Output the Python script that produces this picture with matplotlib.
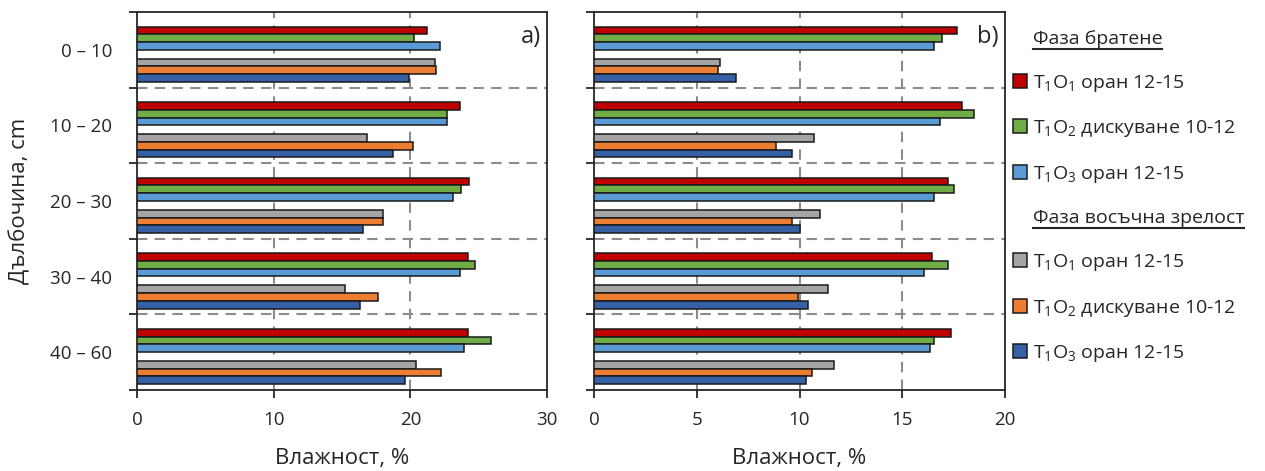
import matplotlib
matplotlib.use("Agg")
import matplotlib.pyplot as plt
import numpy as np
from matplotlib.patches import Patch
from matplotlib.lines import Line2D

plt.rcParams['font.family'] = ['Open Sans', 'DejaVu Sans']
plt.rcParams['mathtext.fontset'] = 'custom'
plt.rcParams['mathtext.rm'] = 'Open Sans'
plt.rcParams['mathtext.it'] = 'Open Sans'
plt.rcParams['mathtext.bf'] = 'Open Sans'

# ---------------- data ----------------
depths = ["0 – 10", "10 – 20", "20 – 30", "30 – 40", "40 – 60"]
series_labels = ["T$_1$O$_1$ оран 12-15", "T$_1$O$_2$ дискуване 10-12", "T$_1$O$_3$ оран 12-15",
                 "T$_1$O$_1$ оран 12-15", "T$_1$O$_2$ дискуване 10-12", "T$_1$O$_3$ оран 12-15"]
heading1 = "Фаза братене"
heading2 = "Фаза восъчна зрелост"

# panel a) (tillering: first three, wax maturity: last three)
a_t1o1_br = [21.2, 23.6, 24.3, 24.2, 24.2]
a_t1o2_br = [20.3, 22.65, 23.7, 24.75, 25.9]
a_t1o3_br = [22.2, 22.65, 23.1, 23.6, 23.9]
a_t1o1_vz = [21.8, 16.8, 18.0, 15.2, 20.4]
a_t1o2_vz = [21.9, 20.2, 18.0, 17.6, 22.25]
a_t1o3_vz = [19.9, 18.75, 16.55, 16.3, 19.6]

# panel b)
b_t1o1_br = [17.65, 17.93, 17.24, 16.46, 17.36]
b_t1o2_br = [16.94, 18.51, 17.54, 17.24, 16.56]
b_t1o3_br = [16.56, 16.85, 16.56, 16.07, 16.37]
b_t1o1_vz = [6.14, 10.7, 11.0, 11.4, 11.69]
b_t1o2_vz = [6.03, 8.85, 9.63, 9.92, 10.6]
b_t1o3_vz = [6.92, 9.65, 10.03, 10.42, 10.32]

colors = ["#C00000", "#70AD47", "#5B9BD5", "#A5A5A5", "#ED7D31", "#3560A6"]
x_ticks_a = [0, 10, 20, 30]
x_ticks_b = [0, 5, 10, 15, 20]

# ---------------- layout ----------------
W, H = 1265, 471
fig = plt.figure(figsize=(W / 100, H / 100), dpi=100)
txt_col = "#262626"

offsets = [0.243, 0.345, 0.447, 0.668, 0.770, 0.872]
bar_h = 0.102


def draw_panel(ax, data, xmax, xticks, tag):
    y0 = np.arange(len(depths))
    for k, vals in enumerate(data):
        ax.barh(y0 + offsets[k], vals, height=bar_h, color=colors[k],
                edgecolor="#1a1a1a", linewidth=1.1, zorder=3)
    ax.set_xlim(0, xmax)
    ax.set_ylim(len(depths), 0)
    ax.set_xticks(xticks)
    ax.set_xticklabels([str(t) for t in xticks], fontsize=13.5, color=txt_col)
    ax.set_yticks(np.arange(len(depths) + 1))
    ax.set_yticklabels([])
    ax.set_yticks(y0 + 0.5, minor=True)
    ax.tick_params(axis="y", which="minor", length=0, pad=18)
    ax.tick_params(axis="both", which="major", direction="out", length=6, width=1.3, color="#262626")
    ax.tick_params(axis="x", pad=9)
    # grid lines
    for xv in xticks[1:-1]:
        ax.axvline(xv, color="#8c8c8c", lw=1.5, ls=(0, (5, 3.5)), zorder=1)
    for yv in range(1, len(depths)):
        ax.axhline(yv, color="#8c8c8c", lw=1.5, ls=(0, (5, 3.5)), zorder=1)
    for s in ax.spines.values():
        s.set_color("#262626")
        s.set_linewidth(1.3)
    ax.set_xlabel("Влажност, %", fontsize=16, color=txt_col, labelpad=14)
    ax.text(0.985, 0.935, tag, transform=ax.transAxes, ha="right", va="center",
            fontsize=17, color=txt_col)


top = 1 - 12 / H
bot = 1 - 390 / H
ax1 = fig.add_axes([137 / W, bot, 410 / W, top - bot])
ax2 = fig.add_axes([594 / W, bot, 411 / W, top - bot])

draw_panel(ax1, [a_t1o1_br, a_t1o2_br, a_t1o3_br, a_t1o1_vz, a_t1o2_vz, a_t1o3_vz],
           30, x_ticks_a, "a)")
draw_panel(ax2, [b_t1o1_br, b_t1o2_br, b_t1o3_br, b_t1o1_vz, b_t1o2_vz, b_t1o3_vz],
           20, x_ticks_b, "b)")

ax1.set_yticklabels(depths, minor=True, fontsize=13.5, color=txt_col)
ax1.set_ylabel("Дълбочина, cm", fontsize=16, color=txt_col, labelpad=14)

# ---------------- legend ----------------
blank = Patch(facecolor="none", edgecolor="none")
handles = [blank] + [Patch(facecolor=colors[k], edgecolor="#1a1a1a", linewidth=1.1) for k in range(3)] + \
          [blank] + [Patch(facecolor=colors[k], edgecolor="#1a1a1a", linewidth=1.1) for k in range(3, 6)]
labels = [heading1] + series_labels[:3] + [heading2] + series_labels[3:]
leg = fig.legend(handles, labels, loc="upper left", bbox_to_anchor=(1013 / W, 1 - 30 / H),
                 frameon=False, fontsize=14, handlelength=0.72, handleheight=0.72,
                 handletextpad=0.3, labelspacing=1.265, borderaxespad=0, borderpad=0)
for t in leg.get_texts():
    t.set_color(txt_col)

fig.canvas.draw()
renderer = fig.canvas.get_renderer()
for idx in (0, 4):
    t = leg.get_texts()[idx]
    bb = t.get_window_extent(renderer)
    y = bb.y0 - 1
    fig.add_artist(Line2D([bb.x0 / W, bb.x1 / W], [y / H, y / H], color=txt_col, lw=1.5,
                          transform=fig.transFigure))

fig.savefig("out.png", dpi=100)
